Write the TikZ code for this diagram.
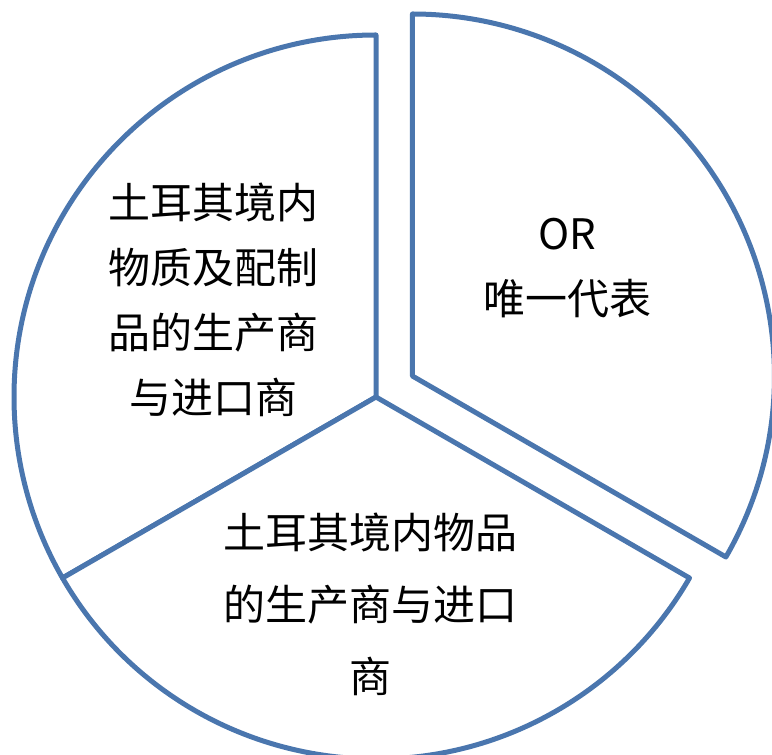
\documentclass[tikz,border=0pt]{standalone}
\usepackage{fontspec}
\setmainfont{Noto Sans CJK SC}
\definecolor{pieline}{HTML}{4A76AE}
\begin{document}
\begin{tikzpicture}[x=1pt,y=1pt,
  slice/.style={draw=pieline,line width=5pt,fill=white,line join=round},
  lbl/.style={align=center,font=\fontsize{42}{65}\selectfont,inner sep=0pt,text=black}]
\useasboundingbox (0,0) rectangle (772,755);
\coordinate (C) at (376,358);
\coordinate (E) at (412.4,379);
\def\R{362}
% left slice
\draw[slice] (C) -- ++(90:\R) arc[start angle=90,end angle=210,radius=\R] -- cycle;
% bottom slice
\draw[slice] (C) -- ++(210:\R) arc[start angle=210,end angle=330,radius=\R] -- cycle;
% exploded right slice
\draw[slice] (E) -- ++(-30:\R) arc[start angle=-30,end angle=90,radius=\R] -- cycle;
\node[lbl] (left) at (213,455) {土耳其境内\\物质及配制\\品的生产商\\与进口商};
\node[lbl] (right) at (567,487) {OR\\唯一代表};
\node[lbl,font=\fontsize{42}{72}\selectfont] (bottom) at (370,151) {土耳其境内物品\\的生产商与进口\\商};
\end{tikzpicture}
\end{document}
